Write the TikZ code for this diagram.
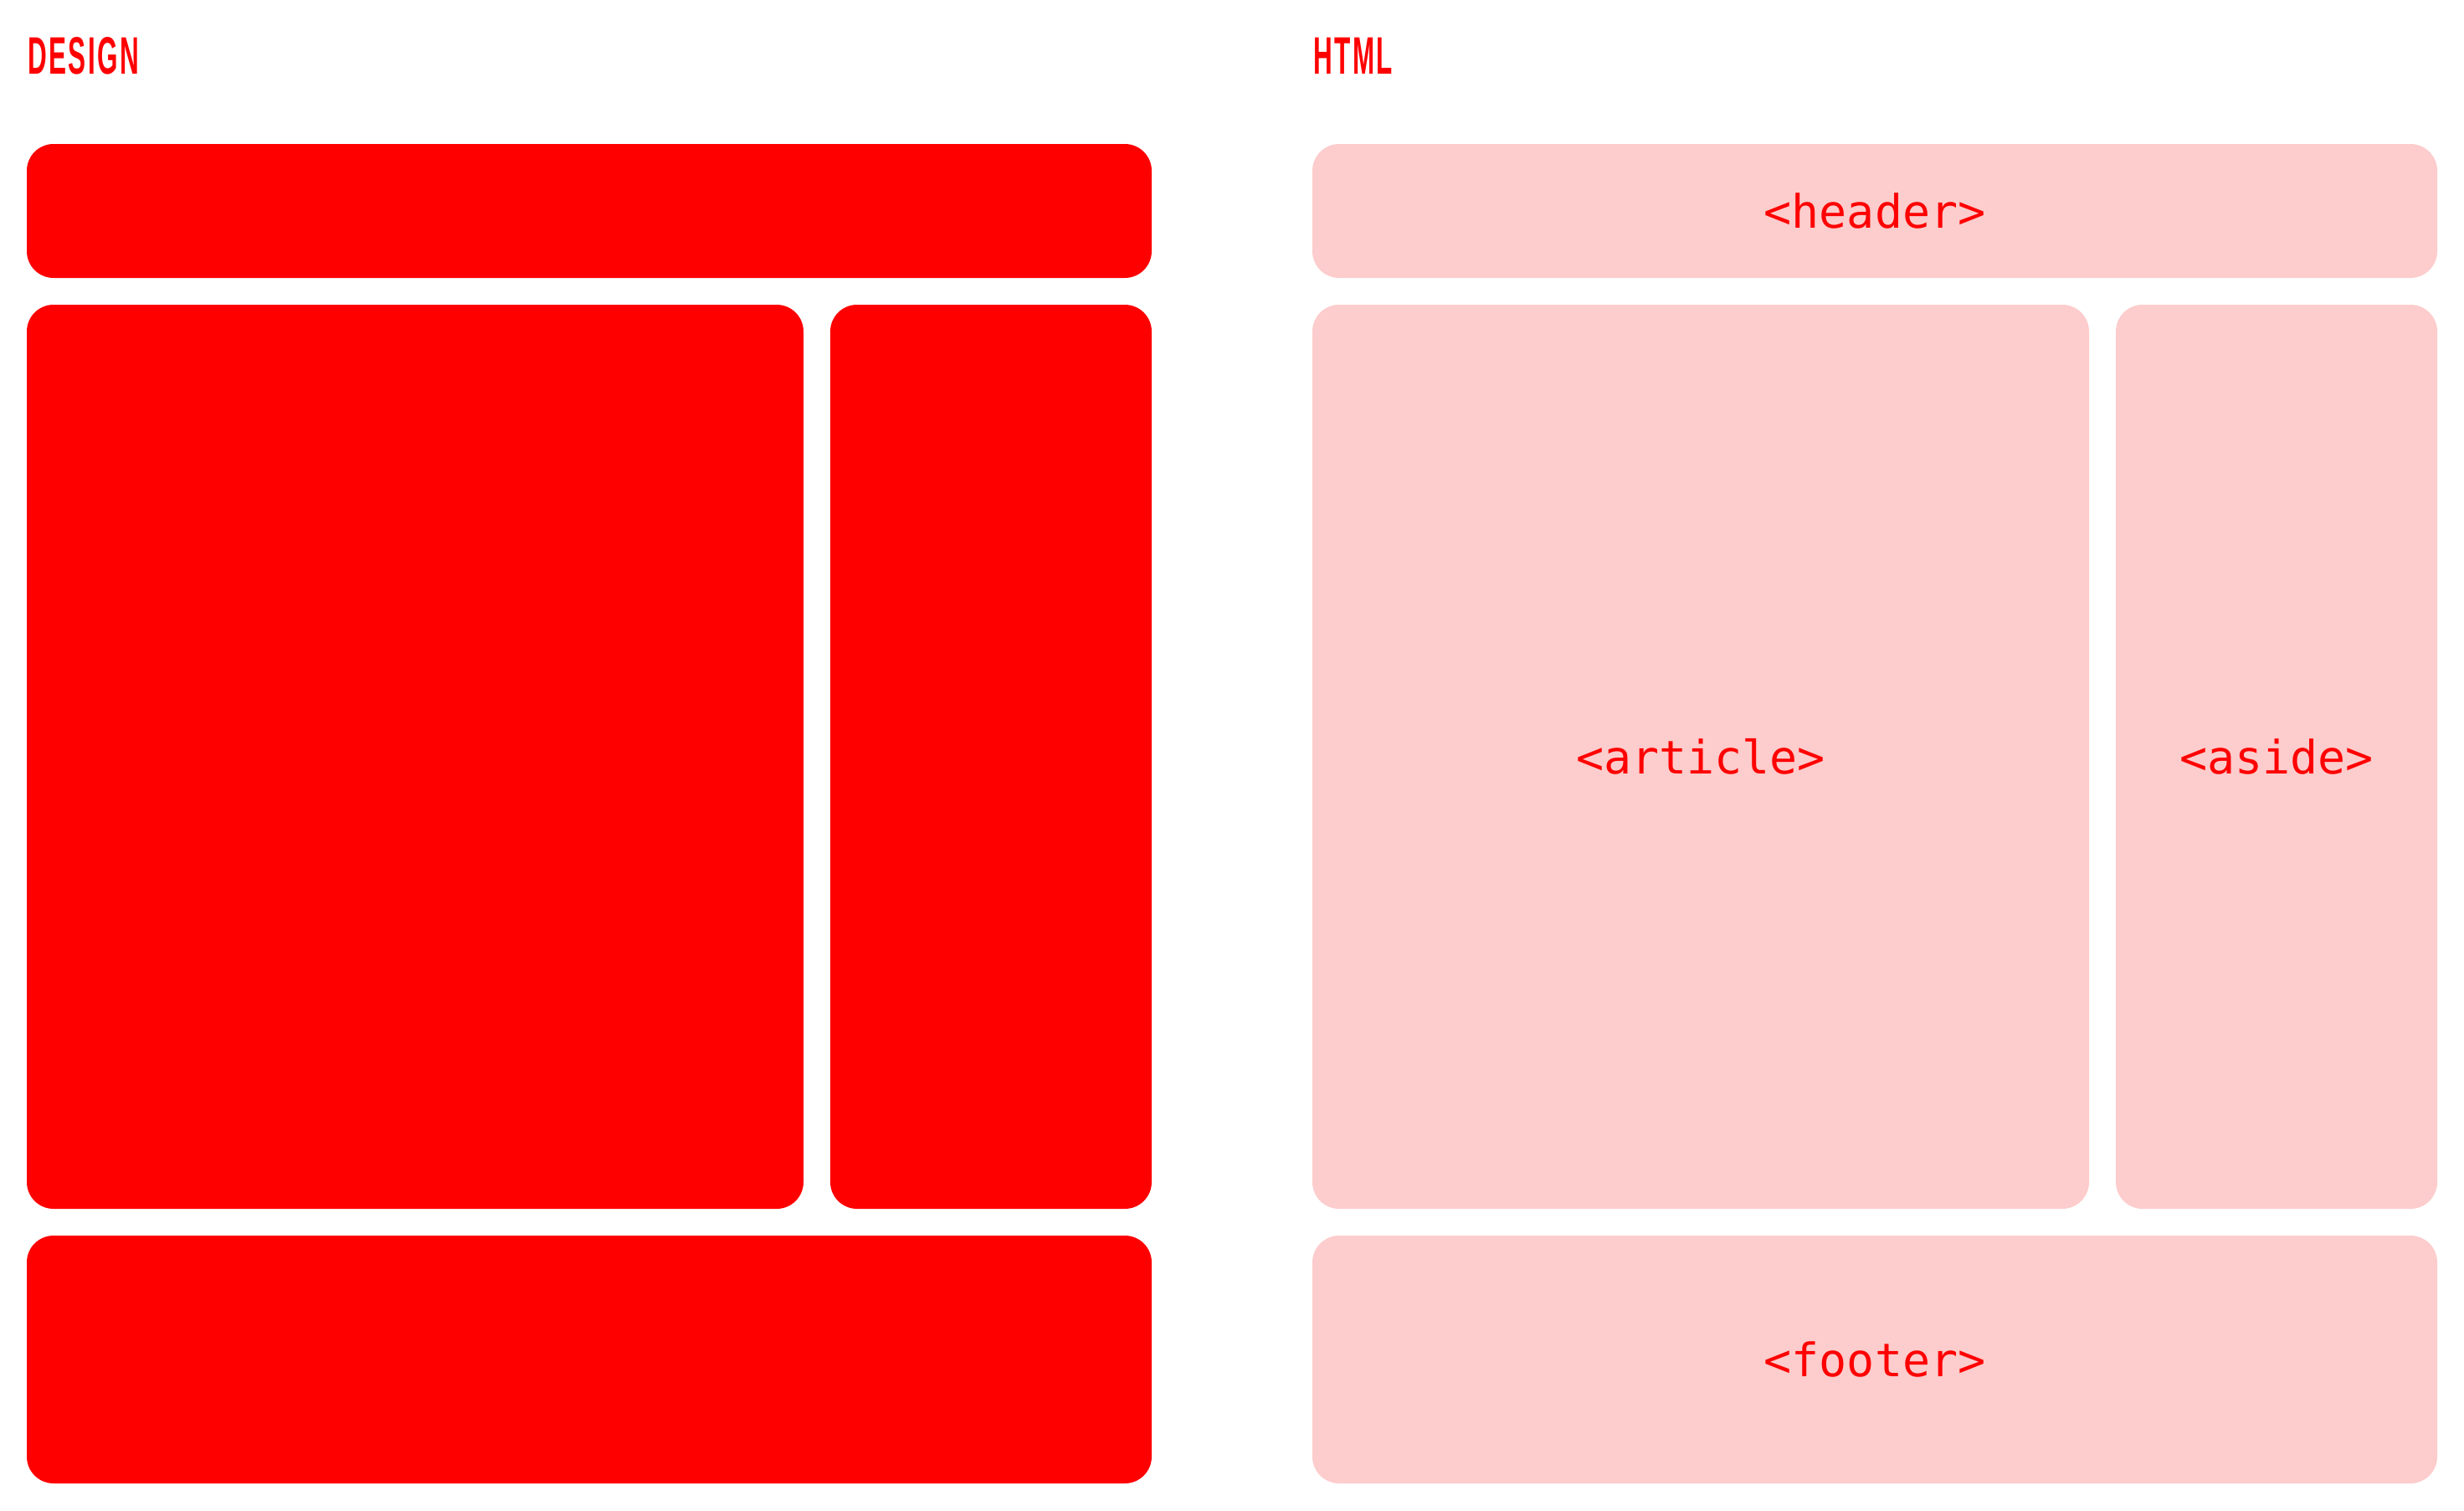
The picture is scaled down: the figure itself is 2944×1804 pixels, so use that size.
\documentclass[tikz,border=0pt]{standalone}
\usepackage{fontspec}
\newfontfamily\headfont{Liberation Sans}[FakeStretch=0.5, LetterSpace=4]
\newfontfamily\codefont{DejaVu Sans Mono}
\definecolor{myred}{RGB}{255,0,0}
\definecolor{mypink}{RGB}{253,204,204}
\begin{document}
\begin{tikzpicture}[x=1pt,y=-1pt,
  panelbox/.style={rounded corners=32pt, inner sep=0pt, draw=none, text=myred,
    font=\codefont\fontsize{55pt}{66pt}\selectfont},
  solidbox/.style={panelbox, fill=myred},
  tagbox/.style={panelbox, fill=mypink},
  headtitle/.style={anchor=base west, inner sep=0pt, text=myred,
    font=\headfont\bfseries\fontsize{63pt}{70pt}\selectfont}]
\useasboundingbox[fill=white] (0,0) rectangle (2944,1804);
% titles
\node[headtitle] (tdesign) at (33,88) {DESIGN};
\node[headtitle] (thtml) at (1569,88) {HTML};
% design panel
\node[solidbox, minimum width=1344pt, minimum height=160pt] (dheader) at (704,252) {};
\node[solidbox, minimum width=928pt, minimum height=1080pt] (darticle) at (496,904) {};
\node[solidbox, minimum width=384pt, minimum height=1080pt] (daside) at (1184,904) {};
\node[solidbox, minimum width=1344pt, minimum height=296pt] (dfooter) at (704,1624) {};
% html panel
\node[tagbox, minimum width=1344pt, minimum height=160pt] (hheader) at (2240,252) {<header>};
\node[tagbox, minimum width=928pt, minimum height=1080pt] (harticle) at (2032,904) {<article>};
\node[tagbox, minimum width=384pt, minimum height=1080pt] (haside) at (2720,904) {<aside>};
\node[tagbox, minimum width=1344pt, minimum height=296pt] (hfooter) at (2240,1624) {<footer>};
\end{tikzpicture}
\end{document}
